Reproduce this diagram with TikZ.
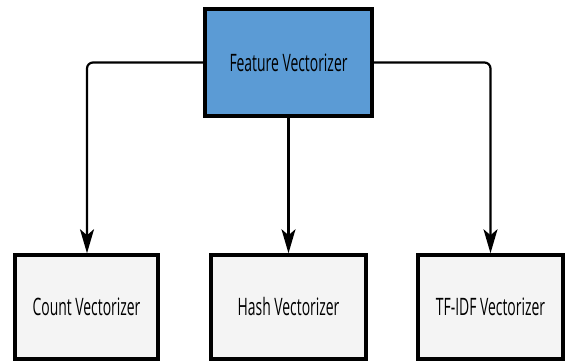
\documentclass[tikz,border=0pt]{standalone}
\usepackage{fontspec}
\setmainfont{Open Sans}[FakeStretch=0.58]
\usetikzlibrary{arrows.meta}
\definecolor{topblue}{HTML}{5B9BD5}
\definecolor{leafgray}{HTML}{F4F4F4}
\begin{document}
\begin{tikzpicture}[x=1pt,y=-1pt,
  boxbase/.style={draw=black,line width=3.5pt,inner sep=0pt,font=\fontsize{24}{28}\selectfont},
  rootbox/.style={boxbase,fill=topblue,minimum width=167pt,minimum height=107pt},
  leafbox/.style={boxbase,fill=leafgray,minimum width=143pt,minimum height=104pt},
  conn/.style={draw=black,line width=2.2pt,rounded corners=6pt,-{Stealth[length=24pt,width=14pt,inset=6pt]}}]
\useasboundingbox (0,0) rectangle (566,363);
\node[rootbox] (fv) at (288.5,62.5) {Feature Vectorizer};
\node[leafbox] (cv) at (86.5,307) {Count Vectorizer};
\node[leafbox,minimum width=155pt] (hv) at (288.5,307) {Hash Vectorizer};
\node[leafbox,minimum width=145pt] (tv) at (490.5,307) {TF-IDF Vectorizer};
\draw[conn] (fv.west) -| (cv.north -| 87,0);
\draw[conn] (fv.south) -- (hv.north);
\draw[conn] (fv.east) -| (tv.north);
\end{tikzpicture}
\end{document}
